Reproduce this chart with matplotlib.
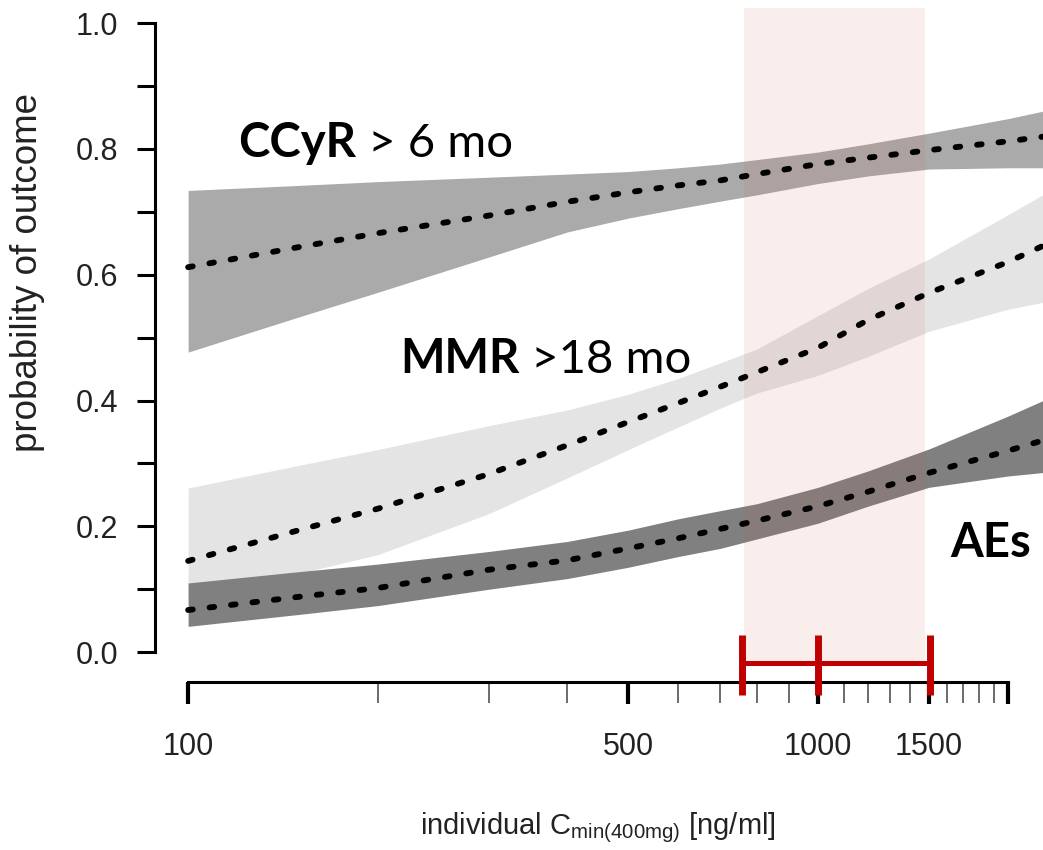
import matplotlib.pyplot as plt
from matplotlib.ticker import FixedLocator, NullFormatter

plt.rcParams['font.family'] = ['Liberation Sans', 'DejaVu Sans']
plt.rcParams['mathtext.fontset'] = 'custom'
plt.rcParams['mathtext.rm'] = 'Liberation Sans'

# concentration grid (ng/ml)
conc = [100, 150, 200, 300, 400, 500, 600, 700, 800, 1000, 1200, 1500, 2000, 2300]

ccyr_mid = [0.612, 0.644, 0.666, 0.694, 0.716, 0.731, 0.742, 0.750, 0.760, 0.776, 0.786, 0.798, 0.812, 0.820]
ccyr_lo = [0.477, 0.533, 0.572, 0.628, 0.668, 0.690, 0.705, 0.717, 0.727, 0.745, 0.757, 0.768, 0.770, 0.770]
ccyr_hi = [0.734, 0.742, 0.748, 0.755, 0.760, 0.764, 0.770, 0.776, 0.783, 0.795, 0.808, 0.825, 0.848, 0.861]

mmr_mid = [0.145, 0.194, 0.228, 0.283, 0.329, 0.366, 0.396, 0.422, 0.445, 0.484, 0.528, 0.571, 0.620, 0.648]
mmr_lo = [0.080, 0.125, 0.155, 0.220, 0.277, 0.322, 0.358, 0.388, 0.412, 0.440, 0.470, 0.510, 0.545, 0.557]
mmr_hi = [0.261, 0.297, 0.322, 0.360, 0.385, 0.410, 0.435, 0.460, 0.482, 0.535, 0.578, 0.625, 0.695, 0.730]

ae_mid = [0.067, 0.088, 0.102, 0.131, 0.146, 0.165, 0.181, 0.196, 0.209, 0.232, 0.255, 0.285, 0.320, 0.338]
ae_lo = [0.041, 0.060, 0.074, 0.100, 0.117, 0.135, 0.152, 0.165, 0.180, 0.205, 0.232, 0.262, 0.280, 0.286]
ae_hi = [0.110, 0.128, 0.140, 0.160, 0.176, 0.194, 0.212, 0.225, 0.236, 0.262, 0.288, 0.323, 0.375, 0.402]

# target range (shaded) and the bar below the axis
target_lo, target_hi = 763, 1477
bar_lo, bar_mid, bar_hi = 757, 1000, 1506

xticks_major = [100, 500, 1000, 1500, 2000]
xtick_labels = ['100', '500', '1000', '1500', '']
xticks_minor = [200, 300, 400, 600, 700, 800, 900, 1100, 1200, 1300, 1400, 1600, 1700, 1800, 1900]

fig = plt.figure(figsize=(10.43, 8.5), dpi=100)
ax = fig.add_axes([155 / 1043, 1 - 666 / 850, 888 / 1043, 658 / 850])

# bands
ax.fill_between(conc, mmr_lo, mmr_hi, color='#e4e4e4', lw=0, zorder=1)
ax.fill_between(conc, ccyr_lo, ccyr_hi, color='#aaaaaa', lw=0, zorder=2)
ax.fill_between(conc, ae_lo, ae_hi, color='#808080', lw=0, zorder=3)

ax.axvspan(target_lo, target_hi, color='#d06050', alpha=0.1, lw=0, zorder=4)

for mid in (ccyr_mid, mmr_mid, ae_mid):
    ax.plot(conc, mid, color='black', lw=4.2, dashes=(0.8, 2.9),
            dash_capstyle='round', zorder=5)

# red bar under the axis
red = '#c00000'
ax.plot([bar_lo, bar_hi], [-0.017, -0.017], color=red, lw=3.6,
        solid_capstyle='butt', clip_on=False, zorder=6)
ax.vlines([bar_lo, bar_mid, bar_hi], -0.068, 0.027, color=red, lw=5,
          clip_on=False, zorder=6)

ax.set_xscale('log')
ax.set_xlim(88.6, 2276)
ax.set_ylim(-0.022, 1.024)

ax.spines['top'].set_visible(False)
ax.spines['right'].set_visible(False)
ax.spines['left'].set_bounds(0, 1)
ax.spines['left'].set_linewidth(2.2)
ax.spines['bottom'].set_bounds(100, 2000)
ax.spines['bottom'].set_linewidth(2.2)
ax.spines['bottom'].set_position(('outward', 11.5))

ax.set_yticks([0, 0.2, 0.4, 0.6, 0.8, 1.0])
ax.set_yticklabels(['0.0', '0.2', '0.4', '0.6', '0.8', '1.0'])
ax.yaxis.set_minor_locator(FixedLocator([0.1, 0.3, 0.5, 0.7, 0.9]))
ax.tick_params(axis='y', which='both', length=13, width=2.2, pad=13.5,
               labelsize=22, colors='black', labelcolor='#222222')

ax.xaxis.set_major_locator(FixedLocator(xticks_major))
ax.set_xticklabels(xtick_labels)
ax.xaxis.set_minor_locator(FixedLocator(xticks_minor))
ax.xaxis.set_minor_formatter(NullFormatter())
ax.tick_params(axis='x', which='major', length=16, width=3, pad=20,
               labelsize=22, labelcolor='#222222')
ax.tick_params(axis='x', which='minor', length=15, width=1.1, color='#444444')

fig.text(28 / 1043, 1 - 272 / 850, 'probability of outcome', rotation=90,
         ha='center', va='center', fontsize=26.5, color='#222222')
fig.text(598 / 1043, 1 - 828 / 850, r'individual C$_{\mathrm{min(400mg)}}$ [ng/ml]',
         ha='center', va='center', fontsize=21, color='#222222')

# annotations: bold name + normal suffix
fig.canvas.draw()
renderer = fig.canvas.get_renderer()
ann_font = ['Lato', 'DejaVu Sans']
for bold, rest, xv, yv in [('CCyR', ' > 6 mo', 120, 0.787),
                           ('MMR', ' >18 mo', 217, 0.443),
                           ('AEs', '', 1620, 0.151)]:
    t = ax.text(xv, yv, bold, fontsize=34, fontweight='bold', family=ann_font,
                ha='left', va='baseline', zorder=7)
    if rest:
        bb = t.get_window_extent(renderer)
        base_y = ax.transData.transform((xv, yv))[1]
        fig.text(bb.x1 / fig.bbox.width, base_y / fig.bbox.height, rest,
                 fontsize=34, family=ann_font, ha='left', va='baseline')

fig.savefig('out.png', dpi=100)
